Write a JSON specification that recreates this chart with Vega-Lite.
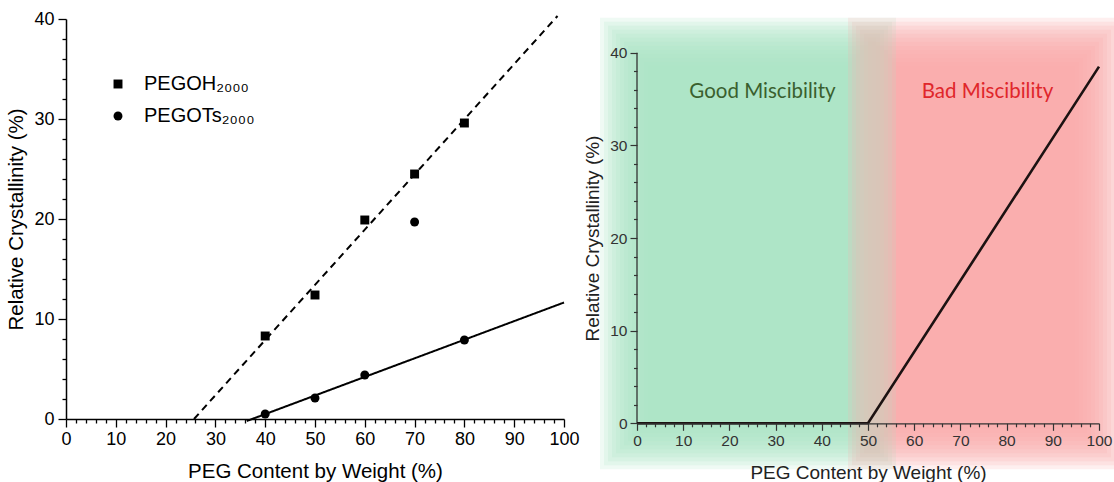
{
  "$schema": "https://vega.github.io/schema/vega-lite/v6.json",
  "background": "white",
  "padding": {"left": 6, "top": 10, "right": 5, "bottom": 5},
  "config": {
    "font": "Liberation Sans",
    "view": {"stroke": null},
    "axis": {"grid": false, "titleFontWeight": "normal", "labelOverlap": false, "labelFlush": false}
  },
  "datasets": {
    "crystallinity": [
      {"series": "PEGOH₂₀₀₀", "peg": 40, "crystallinity": 8.3},
      {"series": "PEGOH₂₀₀₀", "peg": 50, "crystallinity": 12.4},
      {"series": "PEGOH₂₀₀₀", "peg": 60, "crystallinity": 19.9},
      {"series": "PEGOH₂₀₀₀", "peg": 70, "crystallinity": 24.5},
      {"series": "PEGOH₂₀₀₀", "peg": 80, "crystallinity": 29.6},
      {"series": "PEGOTs₂₀₀₀", "peg": 40, "crystallinity": 0.5},
      {"series": "PEGOTs₂₀₀₀", "peg": 50, "crystallinity": 2.1},
      {"series": "PEGOTs₂₀₀₀", "peg": 60, "crystallinity": 4.4},
      {"series": "PEGOTs₂₀₀₀", "peg": 70, "crystallinity": 19.7},
      {"series": "PEGOTs₂₀₀₀", "peg": 80, "crystallinity": 7.9}
    ],
    "fits": [
      {"fit": "PEGOH₂₀₀₀ fit", "peg": 25.7, "crystallinity": 0},
      {"fit": "PEGOH₂₀₀₀ fit", "peg": 98.7, "crystallinity": 40.3},
      {"fit": "PEGOTs₂₀₀₀ fit", "peg": 36.3, "crystallinity": -0.2},
      {"fit": "PEGOTs₂₀₀₀ fit", "peg": 100, "crystallinity": 11.65}
    ],
    "model": [
      {"peg": 0, "crystallinity": 0},
      {"peg": 50, "crystallinity": 0},
      {"peg": 100, "crystallinity": 38.5}
    ],
    "regions": [
      {"region": "Good Miscibility", "start": 0, "end": 50},
      {"region": "Bad Miscibility", "start": 50, "end": 100}
    ]
  },
  "bounds": "flush",
  "spacing": 73,
  "hconcat": [
    {
      "width": 498,
      "height": 400,
      "encoding": {
        "x": {
          "field": "peg", "type": "quantitative",
          "scale": {"domain": [0, 100], "nice": false},
          "axis": {
            "title": "PEG Content by Weight (%)",
            "values": [0,2,4,6,8,10,12,14,16,18,20,22,24,26,28,30,32,34,36,38,40,42,44,46,48,50,52,54,56,58,60,62,64,66,68,70,72,74,76,78,80,82,84,86,88,90,92,94,96,98,100],
            "labelExpr": "datum.value % 10 === 0 ? datum.label : ''",
            "tickSize": {"condition": {"test": "datum.value % 10 === 0", "value": 8}, "value": 4},
            "tickWidth": 1.3, "domainWidth": 1.5,
            "domainColor": "black", "tickColor": "black", "labelColor": "black", "titleColor": "black",
            "labelFontSize": 18, "titleFontSize": 20.5, "labelPadding": 3, "titlePadding": 13.5
          }
        },
        "y": {
          "field": "crystallinity", "type": "quantitative",
          "scale": {"domain": [0, 40], "nice": false},
          "axis": {
            "title": "Relative Crystallinity (%)",
            "values": [0,2,4,6,8,10,12,14,16,18,20,22,24,26,28,30,32,34,36,38,40],
            "labelExpr": "datum.value % 10 === 0 ? datum.label : ''",
            "tickSize": {"condition": {"test": "datum.value % 10 === 0", "value": 8}, "value": 4},
            "tickWidth": 1.3, "domainWidth": 1.5,
            "domainColor": "black", "tickColor": "black", "labelColor": "black", "titleColor": "black",
            "labelFontSize": 18, "titleFontSize": 20.5, "labelPadding": 4, "titlePadding": 7
          }
        }
      },
      "layer": [
        {
          "data": {"name": "fits"},
          "mark": {"type": "line", "color": "black", "strokeWidth": 2, "clip": false},
          "encoding": {
            "detail": {"field": "fit", "type": "nominal"},
            "strokeDash": {
              "field": "fit", "type": "nominal",
              "scale": {"domain": ["PEGOH₂₀₀₀ fit", "PEGOTs₂₀₀₀ fit"], "range": [[7, 5], [1, 0]]},
              "legend": null
            }
          }
        },
        {
          "data": {"name": "crystallinity"},
          "mark": {"type": "point", "filled": true, "opacity": 1, "color": "black", "size": 80},
          "encoding": {
            "shape": {
              "field": "series", "type": "nominal",
              "scale": {"domain": ["PEGOH₂₀₀₀", "PEGOTs₂₀₀₀"], "range": ["square", "circle"]},
              "legend": {
                "title": null, "orient": "none", "legendX": 42, "legendY": 55,
                "padding": 0, "rowPadding": 12, "labelOffset": 16,
                "labelFont": "Liberation Sans", "labelFontSize": 20, "labelColor": "black",
                "symbolSize": 80, "symbolFillColor": "black", "symbolStrokeColor": "black", "symbolStrokeWidth": 0
              }
            }
          }
        }
      ]
    },
    {
      "width": 462,
      "height": 404.3,
      "layer": [
        {
          "data": {"name": "regions"},
          "encoding": {
            "x": {"field": "start", "type": "quantitative", "scale": {"domain": [0, 100], "nice": false},
              "axis": {
                "title": "PEG Content by Weight (%)", "zindex": 1,
                "values": [0,2,4,6,8,10,12,14,16,18,20,22,24,26,28,30,32,34,36,38,40,42,44,46,48,50,52,54,56,58,60,62,64,66,68,70,72,74,76,78,80,82,84,86,88,90,92,94,96,98,100],
                "labelExpr": "datum.value % 10 === 0 ? datum.label : ''",
                "tickSize": {"condition": {"test": "datum.value % 10 === 0", "value": 7}, "value": 3.5},
                "tickWidth": 1.2, "domainWidth": 1.3,
                "domainColor": "#333333", "tickColor": "#333333", "labelColor": "#333333", "titleColor": "#222222",
                "labelFontSize": 15.5, "titleFontSize": 19, "labelPadding": 3, "titlePadding": 14.5
              }},
            "x2": {"field": "end"},
            "y": {"datum": 40, "type": "quantitative", "scale": {"domain": [0, 43.64], "nice": false},
              "axis": {
                "title": "Relative Crystallinity (%)", "zindex": 1,
                "values": [0,2,4,6,8,10,12,14,16,18,20,22,24,26,28,30,32,34,36,38,40],
                "labelExpr": "datum.value % 10 === 0 ? datum.label : ''",
                "tickSize": {"condition": {"test": "datum.value % 10 === 0", "value": 7}, "value": 3.5},
                "tickWidth": 1.2, "domain": false,
                "tickColor": "#333333", "labelColor": "#333333", "titleColor": "#222222",
                "labelFontSize": 15.5, "titleFontSize": 19, "labelPadding": 3, "titlePadding": 7,
                "titleY": 219
              }},
            "y2": {"datum": 0},
            "color": {"condition": {"test": "datum.region === 'Good Miscibility'", "value": "#ace2c2"}, "value": "#faacac"}
          },
          "layer": [
            {"mark": {"type": "rect", "opacity": 0.19,
              "xOffset": {"expr": "(datum.region === 'Good Miscibility' ? -13 : 4) + 24"},
              "x2Offset": {"expr": "(datum.region === 'Good Miscibility' ? 4 : 0) - 24"},
              "yOffset": 13, "y2Offset": -2}},
            {"mark": {"type": "rect", "opacity": 0.19,
              "xOffset": {"expr": "(datum.region === 'Good Miscibility' ? -13 : 4) + 20"},
              "x2Offset": {"expr": "(datum.region === 'Good Miscibility' ? 4 : 0) - 20"},
              "yOffset": 9, "y2Offset": 2}},
            {"mark": {"type": "rect", "opacity": 0.19,
              "xOffset": {"expr": "(datum.region === 'Good Miscibility' ? -13 : 4) + 16"},
              "x2Offset": {"expr": "(datum.region === 'Good Miscibility' ? 4 : 0) - 16"},
              "yOffset": 5, "y2Offset": 6}},
            {"mark": {"type": "rect", "opacity": 0.19,
              "xOffset": {"expr": "(datum.region === 'Good Miscibility' ? -13 : 4) + 12"},
              "x2Offset": {"expr": "(datum.region === 'Good Miscibility' ? 4 : 0) - 12"},
              "yOffset": 1, "y2Offset": 10}},
            {"mark": {"type": "rect", "opacity": 0.19,
              "xOffset": {"expr": "(datum.region === 'Good Miscibility' ? -13 : 4) + 8"},
              "x2Offset": {"expr": "(datum.region === 'Good Miscibility' ? 4 : 0) - 8"},
              "yOffset": -3, "y2Offset": 14}},
            {"mark": {"type": "rect", "opacity": 0.19,
              "xOffset": {"expr": "(datum.region === 'Good Miscibility' ? -13 : 4) + 4"},
              "x2Offset": {"expr": "(datum.region === 'Good Miscibility' ? 4 : 0) - 4"},
              "yOffset": -7, "y2Offset": 18}},
            {"mark": {"type": "rect", "opacity": 0.19,
              "xOffset": {"expr": "(datum.region === 'Good Miscibility' ? -13 : 4)"},
              "x2Offset": {"expr": "(datum.region === 'Good Miscibility' ? 4 : 0)"},
              "yOffset": -11, "y2Offset": 22}},
            {"mark": {"type": "rect", "opacity": 0.19,
              "xOffset": {"expr": "(datum.region === 'Good Miscibility' ? -13 : 4) - 4"},
              "x2Offset": {"expr": "(datum.region === 'Good Miscibility' ? 4 : 0) + 4"},
              "yOffset": -15, "y2Offset": 26}},
            {"mark": {"type": "rect", "opacity": 0.19,
              "xOffset": {"expr": "(datum.region === 'Good Miscibility' ? -13 : 4) - 8"},
              "x2Offset": {"expr": "(datum.region === 'Good Miscibility' ? 4 : 0) + 8"},
              "yOffset": -19, "y2Offset": 30}},
            {"mark": {"type": "rect", "opacity": 0.19,
              "xOffset": {"expr": "(datum.region === 'Good Miscibility' ? -13 : 4) - 12"},
              "x2Offset": {"expr": "(datum.region === 'Good Miscibility' ? 4 : 0) + 12"},
              "yOffset": -23, "y2Offset": 34}},
            {"mark": {"type": "rect", "opacity": 0.19,
              "xOffset": {"expr": "(datum.region === 'Good Miscibility' ? -13 : 4) - 16"},
              "x2Offset": {"expr": "(datum.region === 'Good Miscibility' ? 4 : 0) + 16"},
              "yOffset": -27, "y2Offset": 38}},
            {"mark": {"type": "rect", "opacity": 0.19,
              "xOffset": {"expr": "(datum.region === 'Good Miscibility' ? -13 : 4) - 20"},
              "x2Offset": {"expr": "(datum.region === 'Good Miscibility' ? 4 : 0) + 20"},
              "yOffset": -31, "y2Offset": 42}},
            {"mark": {"type": "rect", "opacity": 0.19,
              "xOffset": {"expr": "(datum.region === 'Good Miscibility' ? -13 : 4) - 24"},
              "x2Offset": {"expr": "(datum.region === 'Good Miscibility' ? 4 : 0) + 24"},
              "yOffset": -35, "y2Offset": 46}}
          ]
        },
        {
          "data": {"values": [{}]},
          "mark": {"type": "rule", "color": "#333333", "strokeWidth": 1.3},
          "encoding": {
            "x": {"datum": 0, "type": "quantitative", "scale": {"domain": [0, 100], "nice": false},
              "axis": {
                "title": "PEG Content by Weight (%)", "zindex": 1,
                "values": [0,2,4,6,8,10,12,14,16,18,20,22,24,26,28,30,32,34,36,38,40,42,44,46,48,50,52,54,56,58,60,62,64,66,68,70,72,74,76,78,80,82,84,86,88,90,92,94,96,98,100],
                "labelExpr": "datum.value % 10 === 0 ? datum.label : ''",
                "tickSize": {"condition": {"test": "datum.value % 10 === 0", "value": 7}, "value": 3.5},
                "tickWidth": 1.2, "domainWidth": 1.3,
                "domainColor": "#333333", "tickColor": "#333333", "labelColor": "#333333", "titleColor": "#222222",
                "labelFontSize": 15.5, "titleFontSize": 19, "labelPadding": 3, "titlePadding": 14.5
              }},
            "y": {"datum": 0, "type": "quantitative", "scale": {"domain": [0, 43.64], "nice": false},
              "axis": {
                "title": "Relative Crystallinity (%)", "zindex": 1,
                "values": [0,2,4,6,8,10,12,14,16,18,20,22,24,26,28,30,32,34,36,38,40],
                "labelExpr": "datum.value % 10 === 0 ? datum.label : ''",
                "tickSize": {"condition": {"test": "datum.value % 10 === 0", "value": 7}, "value": 3.5},
                "tickWidth": 1.2, "domain": false,
                "tickColor": "#333333", "labelColor": "#333333", "titleColor": "#222222",
                "labelFontSize": 15.5, "titleFontSize": 19, "labelPadding": 3, "titlePadding": 7,
                "titleY": 219
              }},
            "y2": {"datum": 40}
          }
        },
        {
          "data": {"name": "model"},
          "mark": {"type": "line", "color": "#1c1212", "strokeWidth": 2.6},
          "encoding": {
            "x": {"field": "peg", "type": "quantitative", "scale": {"domain": [0, 100], "nice": false},
              "axis": {
                "title": "PEG Content by Weight (%)", "zindex": 1,
                "values": [0,2,4,6,8,10,12,14,16,18,20,22,24,26,28,30,32,34,36,38,40,42,44,46,48,50,52,54,56,58,60,62,64,66,68,70,72,74,76,78,80,82,84,86,88,90,92,94,96,98,100],
                "labelExpr": "datum.value % 10 === 0 ? datum.label : ''",
                "tickSize": {"condition": {"test": "datum.value % 10 === 0", "value": 7}, "value": 3.5},
                "tickWidth": 1.2, "domainWidth": 1.3,
                "domainColor": "#333333", "tickColor": "#333333", "labelColor": "#333333", "titleColor": "#222222",
                "labelFontSize": 15.5, "titleFontSize": 19, "labelPadding": 3, "titlePadding": 14.5
              }},
            "y": {"field": "crystallinity", "type": "quantitative", "scale": {"domain": [0, 43.64], "nice": false},
              "axis": {
                "title": "Relative Crystallinity (%)", "zindex": 1,
                "values": [0,2,4,6,8,10,12,14,16,18,20,22,24,26,28,30,32,34,36,38,40],
                "labelExpr": "datum.value % 10 === 0 ? datum.label : ''",
                "tickSize": {"condition": {"test": "datum.value % 10 === 0", "value": 7}, "value": 3.5},
                "tickWidth": 1.2, "domain": false,
                "tickColor": "#333333", "labelColor": "#333333", "titleColor": "#222222",
                "labelFontSize": 15.5, "titleFontSize": 19, "labelPadding": 3, "titlePadding": 7,
                "titleY": 219
              }}
          }
        },
        {
          "data": {"name": "regions"},
          "transform": [{"calculate": "(datum.start + datum.end) / 2", "as": "mid"}],
          "mark": {"type": "text", "font": "Lato", "fontSize": 20.5, "baseline": "middle",
            "dx": {"expr": "datum.region === 'Good Miscibility' ? 10 : 4"}},
          "encoding": {
            "x": {"field": "mid", "type": "quantitative", "scale": {"domain": [0, 100], "nice": false},
              "axis": {
                "title": "PEG Content by Weight (%)", "zindex": 1,
                "values": [0,2,4,6,8,10,12,14,16,18,20,22,24,26,28,30,32,34,36,38,40,42,44,46,48,50,52,54,56,58,60,62,64,66,68,70,72,74,76,78,80,82,84,86,88,90,92,94,96,98,100],
                "labelExpr": "datum.value % 10 === 0 ? datum.label : ''",
                "tickSize": {"condition": {"test": "datum.value % 10 === 0", "value": 7}, "value": 3.5},
                "tickWidth": 1.2, "domainWidth": 1.3,
                "domainColor": "#333333", "tickColor": "#333333", "labelColor": "#333333", "titleColor": "#222222",
                "labelFontSize": 15.5, "titleFontSize": 19, "labelPadding": 3, "titlePadding": 14.5
              }},
            "y": {"datum": 35.8, "type": "quantitative", "scale": {"domain": [0, 43.64], "nice": false},
              "axis": {
                "title": "Relative Crystallinity (%)", "zindex": 1,
                "values": [0,2,4,6,8,10,12,14,16,18,20,22,24,26,28,30,32,34,36,38,40],
                "labelExpr": "datum.value % 10 === 0 ? datum.label : ''",
                "tickSize": {"condition": {"test": "datum.value % 10 === 0", "value": 7}, "value": 3.5},
                "tickWidth": 1.2, "domain": false,
                "tickColor": "#333333", "labelColor": "#333333", "titleColor": "#222222",
                "labelFontSize": 15.5, "titleFontSize": 19, "labelPadding": 3, "titlePadding": 7,
                "titleY": 219
              }},
            "text": {"field": "region"},
            "color": {"condition": {"test": "datum.region === 'Good Miscibility'", "value": "#3a5f2e"}, "value": "#e0262b"}
          }
        }
      ]
    }
  ]
}
